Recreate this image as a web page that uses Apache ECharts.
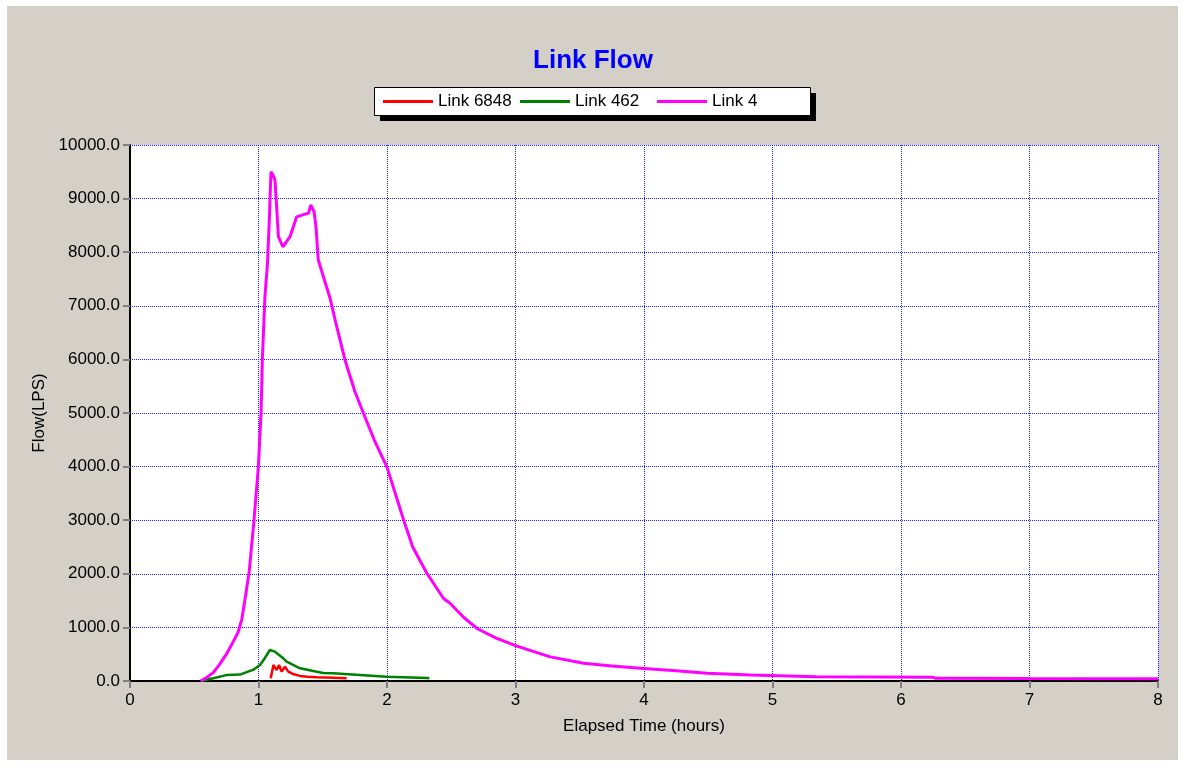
<!DOCTYPE html>
<html>
<head>
<meta charset="utf-8">
<script src="https://cdn.jsdelivr.net/npm/echarts@6/dist/echarts.min.js"></script>
<style>
html,body{margin:0;padding:0;background:#ffffff;}
#chart{width:1186px;height:769px;}
</style>
</head>
<body>
<div id="chart"></div>
<script>
// ---- data (hours, LPS) ----
var seriesNames = ['Link 6848', 'Link 462', 'Link 4'];
var xTicks = [0, 1, 2, 3, 4, 5, 6, 7, 8];
var yTicks = [0, 1000, 2000, 3000, 4000, 5000, 6000, 7000, 8000, 9000, 10000];

var link6848 = [
  [1.095, 50], [1.116, 300], [1.141, 205], [1.16, 300], [1.18, 175], [1.206, 265],
  [1.232, 175], [1.271, 130], [1.323, 95], [1.38, 80], [1.453, 70], [1.582, 62], [1.686, 50]
];
var link462 = [
  [0.55, 0], [0.648, 50], [0.75, 110], [0.856, 120], [0.934, 190], [0.96, 210], [1.012, 300],
  [1.05, 430], [1.089, 578], [1.128, 547], [1.193, 423], [1.219, 360], [1.323, 237],
  [1.426, 187], [1.504, 150], [1.582, 144], [1.79, 112], [1.998, 80], [2.309, 56], [2.33, 50]
];
var link4 = [
  [0.55, 0], [0.6, 70], [0.65, 160], [0.7, 320], [0.75, 500], [0.8, 720], [0.84, 900],
  [0.87, 1150], [0.9, 1600], [0.928, 2050], [0.965, 3000], [0.999, 4000], [1.02, 5000],
  [1.03, 6000], [1.05, 7170], [1.07, 7790], [1.085, 8660], [1.097, 9500], [1.11, 9450],
  [1.128, 9350], [1.141, 8850], [1.155, 8290], [1.19, 8100], [1.245, 8290], [1.297, 8660],
  [1.35, 8700], [1.39, 8730], [1.406, 8880], [1.432, 8760], [1.447, 8480], [1.465, 7860],
  [1.504, 7550], [1.556, 7150], [1.6, 6700], [1.673, 5990], [1.75, 5400], [1.816, 5000],
  [1.9, 4500], [2.0, 3990], [2.13, 3000], [2.2, 2500], [2.31, 2010], [2.44, 1540],
  [2.49, 1450], [2.6, 1180], [2.7, 980], [2.85, 800], [3.0, 660], [3.27, 450], [3.53, 330],
  [3.75, 280], [4.0, 235], [4.25, 190], [4.49, 145], [4.83, 112], [5.34, 80], [5.35, 70],
  [6.25, 68], [6.27, 50], [7.0, 45], [8.0, 40]
];
var seriesColors = ['#ff0000', '#008000', '#ff00ff'];

var FONT = '"Liberation Sans", Arial, sans-serif';
var chart = echarts.init(document.getElementById('chart'), null, {renderer: 'canvas'});

function legendEntry(name, left) {
  return {
    data: [name], left: left, top: 93, padding: 0, itemGap: 0,
    itemWidth: 50, itemHeight: 3, icon: 'rect',
    backgroundColor: 'transparent', borderWidth: 0,
    textStyle: {fontFamily: FONT, fontSize: 17, color: '#000000'}
  };
}

var option = {
  backgroundColor: '#ffffff',
  animation: false,
  graphic: [
    {type: 'rect', z: -10, silent: true, shape: {x: 7, y: 6, width: 1171, height: 754},
     style: {fill: '#d4d0c8'}},
    {type: 'rect', z: -5, silent: true, shape: {x: 380, y: 93, width: 436, height: 28},
     style: {fill: '#000000'}},
    {type: 'rect', z: -4, silent: true, shape: {x: 374.5, y: 87.5, width: 436, height: 28},
     style: {fill: '#ffffff', stroke: '#000000', lineWidth: 1}}
  ],
  title: {
    text: 'Link Flow',
    left: 'center',
    top: 43,
    textStyle: {color: '#0000ff', fontFamily: FONT, fontWeight: 'bold', fontSize: 26}
  },
  legend: [
    legendEntry(seriesNames[0], 383),
    legendEntry(seriesNames[1], 520),
    legendEntry(seriesNames[2], 657)
  ],
  grid: {left: 130, right: 28, top: 145, bottom: 88, containLabel: false,
         show: true, backgroundColor: '#ffffff', borderWidth: 0},
  xAxis: {
    type: 'value', min: 0, max: 8, interval: 1,
    name: 'Elapsed Time (hours)', nameLocation: 'middle', nameGap: 37,
    nameTextStyle: {fontFamily: FONT, fontSize: 17, color: '#000000'},
    axisLine: {show: true, onZero: false, lineStyle: {color: '#000000', width: 2}},
    axisTick: {show: true, length: 7, lineStyle: {color: '#808080', width: 2}},
    axisLabel: {fontFamily: FONT, fontSize: 17, color: '#000000', margin: 11,
                formatter: function (v) { return String(v); }},
    splitLine: {show: true, lineStyle: {color: '#2020ff', type: [1, 1], width: 1}}
  },
  yAxis: {
    type: 'value', min: 0, max: 10000, interval: 1000,
    name: 'Flow(LPS)', nameLocation: 'middle', nameGap: 82, nameRotate: 90,
    nameTextStyle: {fontFamily: FONT, fontSize: 17, color: '#000000'},
    axisLine: {show: true, lineStyle: {color: '#000000', width: 2}},
    axisTick: {show: true, length: 7, lineStyle: {color: '#808080', width: 2}},
    axisLabel: {fontFamily: FONT, fontSize: 17, color: '#000000', margin: 10,
                formatter: function (v) { return v.toFixed(1); }},
    splitLine: {show: true, lineStyle: {color: '#2020ff', type: [1, 1], width: 1}}
  },
  series: [
    {name: seriesNames[0], type: 'line', data: link6848, symbol: 'none',
     lineStyle: {color: seriesColors[0], width: 2.5}, itemStyle: {color: seriesColors[0]}, z: 3},
    {name: seriesNames[1], type: 'line', data: link462, symbol: 'none',
     lineStyle: {color: seriesColors[1], width: 2.5}, itemStyle: {color: seriesColors[1]}, z: 2},
    {name: seriesNames[2], type: 'line', data: link4, symbol: 'none',
     lineStyle: {color: seriesColors[2], width: 3}, itemStyle: {color: seriesColors[2]}, z: 4}
  ]
};
chart.setOption(option);
</script>
</body>
</html>
